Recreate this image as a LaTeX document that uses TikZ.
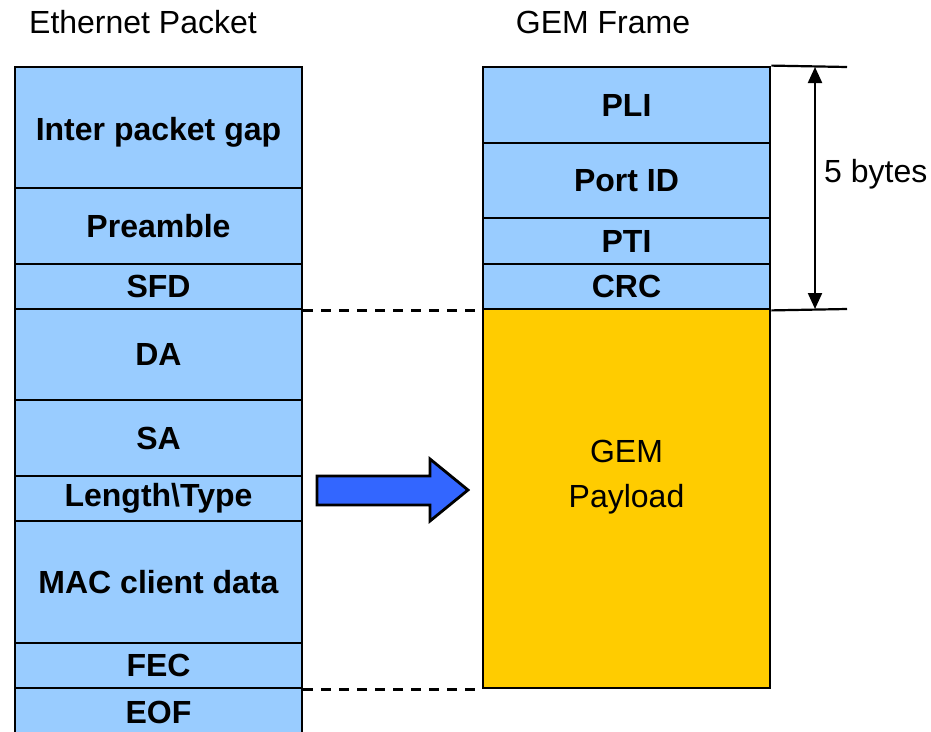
\documentclass[tikz,border=0pt]{standalone}
\usepackage{fontspec}
\setmainfont{Liberation Sans}
\usetikzlibrary{arrows.meta}
\definecolor{cellblue}{HTML}{99CCFF}
\definecolor{payyellow}{HTML}{FFCC00}
\definecolor{arrblue}{HTML}{3366FF}
\begin{document}
\begin{tikzpicture}[x=1pt,y=-1pt,
  cell/.style={draw=black,line width=2.8pt,fill=cellblue,minimum width=287pt,inner sep=0pt,
    font=\fontsize{32}{36}\selectfont\bfseries},
  title/.style={font=\fontsize{32}{36}\selectfont,inner sep=0pt},
  guide/.style={line width=2.2pt},
  dguide/.style={line width=2.2pt,dash pattern=on 10pt off 8pt}]
\useasboundingbox (0,0) rectangle (931,731);
\begin{scope}
\clip (0,0) rectangle (931,731);
% titles
\node[title] (t1) at (143,22) {Ethernet Packet};
\node[title] (t2) at (603,22) {GEM Frame};
% left column
\node[cell,minimum height=121pt,text height=32pt,text depth=6pt] (ipg) at (158.5,127.5) {Inter packet gap};
\node[cell,minimum height=76pt] (pre) at (158.5,226) {Preamble};
\node[cell,minimum height=45pt] (sfd) at (158.5,286.5) {SFD};
\node[cell,minimum height=91pt] (da) at (158.5,354.5) {DA};
\node[cell,minimum height=76pt] (sa) at (158.5,438) {SA};
\node[cell,minimum height=45pt] (lt) at (158.5,498.5) {Length\textbackslash Type};
\node[cell,minimum height=122pt] (mac) at (158.5,582) {MAC client data};
\node[cell,minimum height=45pt] (fec) at (158.5,665.5) {FEC};
\node[cell,minimum height=56pt] (eof) at (158.5,716) {};
\node[font=\fontsize{32}{36}\selectfont\bfseries,inner sep=0pt] (eoft) at (158.5,712) {EOF};
% right column
\node[cell,minimum height=76pt] (pli) at (626.5,105) {PLI};
\node[cell,minimum height=75pt] (pid) at (626.5,180.5) {Port ID};
\node[cell,minimum height=46pt] (pti) at (626.5,241) {PTI};
\node[cell,minimum height=45pt] (crc) at (626.5,286.5) {CRC};
\node[cell,fill=payyellow,minimum height=379pt] (pay) at (626.5,498.5) {};
\node[title,align=center] (payt) at (626.5,477) {GEM\\[9pt]Payload};
% dashed guides
\draw[dguide] (sfd.south east) -- (crc.south west);
\draw[dguide] (fec.south east) -- (pay.south west);
% 5 bytes dimension
\coordinate (h1) at (847,67);
\coordinate (h2) at (847,309);
\draw[guide] (pli.north east) -- (h1);
\draw[guide] (crc.south east) -- (h2);
\coordinate (d1) at (815,67);
\coordinate (d2) at (815,309);
\draw[guide,{Triangle[length=16pt,width=14pt]}-{Triangle[length=16pt,width=14pt]}] (d1) -- (d2);
\node[title,anchor=west] (five) at (824,174) {5 bytes};
% block arrow
\draw[line width=2.8pt,fill=arrblue,line join=miter]
  (317,476) -- (430,476) -- (430,459) -- (468,490) -- (430,521) -- (430,505) -- (317,505) -- cycle;
\end{scope}
\end{tikzpicture}
\end{document}
